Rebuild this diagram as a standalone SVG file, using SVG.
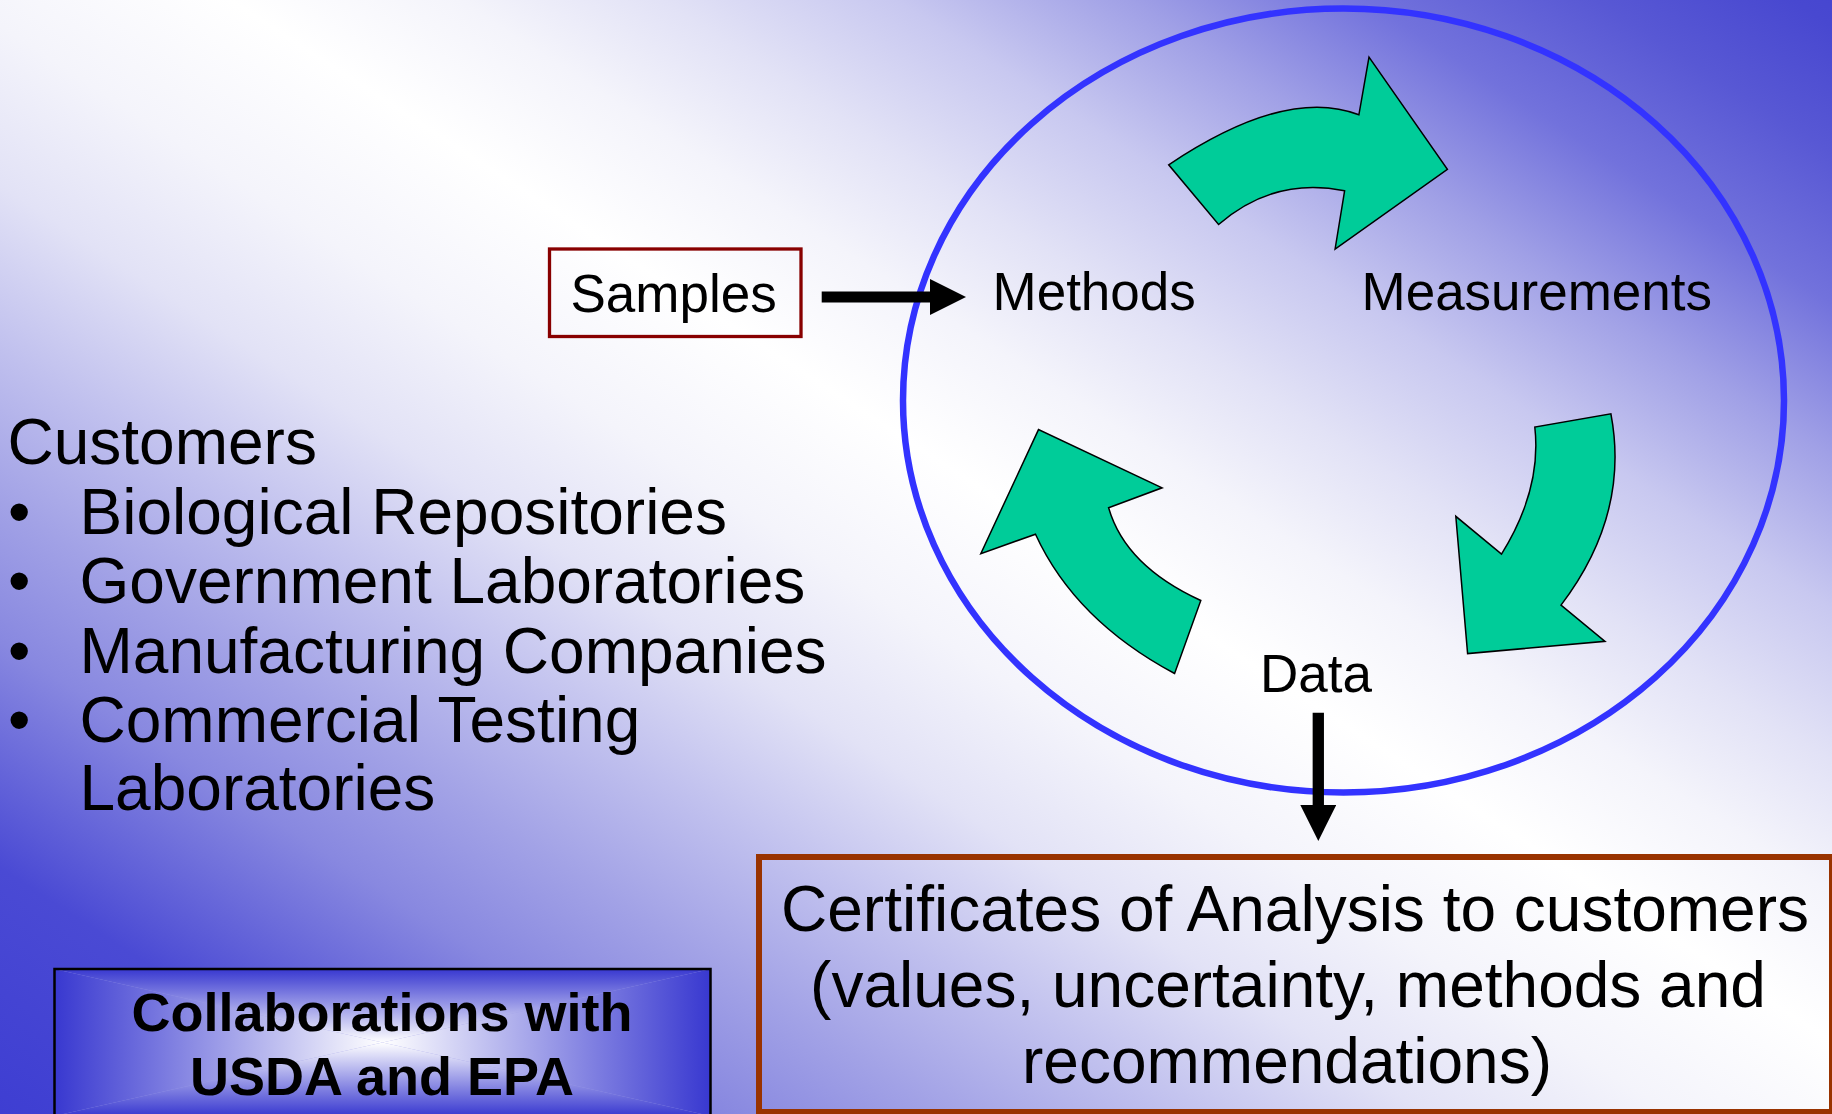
<svg xmlns="http://www.w3.org/2000/svg" width="1832" height="1114" viewBox="0 0 1832 1114">
  <defs>
    <linearGradient id="bg" gradientUnits="userSpaceOnUse" x1="-145.7" y1="1018.3" x2="911.6" y2="-607.4">
      <stop offset="0" stop-color="#3e3ed2"/>
      <stop offset="0.106" stop-color="#4a4ad4"/>
      <stop offset="0.204" stop-color="#8888e0"/>
      <stop offset="0.265" stop-color="#a2a2e6"/>
      <stop offset="0.330" stop-color="#c0c0ee"/>
      <stop offset="0.401" stop-color="#e2e2f6"/>
      <stop offset="0.470" stop-color="#f4f4fb"/>
      <stop offset="0.546" stop-color="#ffffff"/>
      <stop offset="0.610" stop-color="#f4f4fb"/>
      <stop offset="0.667" stop-color="#e2e2f6"/>
      <stop offset="0.733" stop-color="#c8c8f0"/>
      <stop offset="0.799" stop-color="#a0a0e6"/>
      <stop offset="0.865" stop-color="#7272dc"/>
      <stop offset="0.930" stop-color="#5858d4"/>
      <stop offset="0.985" stop-color="#4848d0"/>
      <stop offset="1" stop-color="#4646d0"/>
    </linearGradient>
    <linearGradient id="gTop" gradientUnits="userSpaceOnUse" x1="0" y1="969" x2="0" y2="1042.5">
      <stop offset="0" stop-color="#3838d0"/>
      <stop offset="1" stop-color="#ffffff"/>
    </linearGradient>
    <linearGradient id="gBot" gradientUnits="userSpaceOnUse" x1="0" y1="1116" x2="0" y2="1042.5">
      <stop offset="0" stop-color="#3838d0"/>
      <stop offset="1" stop-color="#ffffff"/>
    </linearGradient>
    <linearGradient id="gLeft" gradientUnits="userSpaceOnUse" x1="54.5" y1="0" x2="382.5" y2="0">
      <stop offset="0" stop-color="#3838d0"/>
      <stop offset="1" stop-color="#ffffff"/>
    </linearGradient>
    <linearGradient id="gRight" gradientUnits="userSpaceOnUse" x1="710.5" y1="0" x2="382.5" y2="0">
      <stop offset="0" stop-color="#3838d0"/>
      <stop offset="1" stop-color="#ffffff"/>
    </linearGradient>
    <marker id="head" markerUnits="userSpaceOnUse" markerWidth="36" markerHeight="36" viewBox="0 0 36 36" refX="0" refY="18" orient="auto">
      <path d="M0,0 L36,18 L0,36 Z" fill="#000"/>
    </marker>
    <style>
      text { font-family: "Liberation Sans", Arial, sans-serif; fill: #000; }
      .lbl { font-size: 53px; }
      .big { font-size: 64px; }
      .cert { font-size: 64px; text-anchor: middle; }
      .bold { font-size: 54px; font-weight: bold; text-anchor: middle; }
      .cyc { fill: #00cc99; stroke: #000; stroke-width: 1.5; stroke-linejoin: miter; }
      .conn { stroke: #000; fill: none; marker-end: url(#head); }
    </style>
  </defs>

  <rect x="0" y="0" width="1832" height="1114" fill="url(#bg)"/>

  <g id="cycle">
    <ellipse id="ring" cx="1343.5" cy="400.5" rx="440.5" ry="392" fill="none" stroke="#3333ff" stroke-width="6.5"/>
    <path id="arrow-top" class="cyc" d="M1168.7,164.8 Q1286.2,86.2 1358.9,114.8 L1369,57.1 L1447.4,169.4 L1335.1,249 L1344.6,190.8 Q1274.4,176.35 1218.6,224.5 Z"/>
    <path id="arrow-right" class="cyc" d="M1610.9,413.8 Q1630,514.5 1561,605.1 L1605,641.3 L1467.6,653.6 L1455.8,516.3 L1501.5,554.1 Q1541.85,489.45 1534.8,427 Z"/>
    <path id="arrow-left" class="cyc" d="M1174.6,673.5 Q1074.95,620.15 1035.5,534.2 L980.8,553.6 L1038.5,429.6 L1162.1,487.8 L1108.6,507.7 Q1125.3,565.9 1200.8,600.5 Z"/>
  </g>

  <g id="samples">
    <rect x="549.5" y="249" width="251.5" height="87.5" fill="none" stroke="#880000" stroke-width="3.3"/>
    <text class="lbl" x="570.5" y="311.7">Samples</text>
  </g>

  <g id="methods">
    <text class="lbl" x="992.5" y="309.7">Methods</text>
  </g>

  <g id="measurements">
    <text class="lbl" x="1361.5" y="309.7">Measurements</text>
  </g>

  <g id="data">
    <text class="lbl" x="1260" y="692">Data</text>
  </g>

  <g id="customers">
    <text class="big" x="7.5" y="464">Customers</text>
    <text class="big" x="8" y="534">•</text>
    <text class="big" x="79.5" y="534">Biological Repositories</text>
    <text class="big" x="8" y="603.3">•</text>
    <text class="big" x="79.5" y="603.3">Government Laboratories</text>
    <text class="big" x="8" y="672.6">•</text>
    <text class="big" x="79.5" y="672.6">Manufacturing Companies</text>
    <text class="big" x="8" y="741.8">•</text>
    <text class="big" x="79.5" y="741.8">Commercial Testing</text>
    <text class="big" x="79.5" y="810">Laboratories</text>
  </g>

  <g id="certificates">
    <rect x="759" y="857" width="1073" height="255" fill="none" stroke="#993300" stroke-width="6"/>
    <text class="cert" x="1295" y="931">Certificates of Analysis to customers</text>
    <text class="cert" x="1288" y="1007">(values, uncertainty, methods and</text>
    <text class="cert" x="1287" y="1083">recommendations)</text>
  </g>

  <g id="collaborations">
    <rect x="54.5" y="969" width="656" height="147" fill="#9c9ce6"/>
    <polygon points="54.5,969 710.5,969 382.5,1042.5" fill="url(#gTop)"/>
    <polygon points="54.5,1116 710.5,1116 382.5,1042.5" fill="url(#gBot)"/>
    <polygon points="54.5,969 54.5,1116 382.5,1042.5" fill="url(#gLeft)"/>
    <polygon points="710.5,969 710.5,1116 382.5,1042.5" fill="url(#gRight)"/>
    <rect x="54.5" y="969" width="656" height="147" fill="none" stroke="#000" stroke-width="2.5"/>
    <text class="bold" x="382" y="1031">Collaborations with</text>
    <text class="bold" x="382" y="1095">USDA and EPA</text>
  </g>

  <g id="connectors">
    <line class="conn" x1="821.7" y1="297" x2="930" y2="297" stroke-width="11"/>
    <line class="conn" x1="1318.3" y1="712.7" x2="1318.3" y2="805" stroke-width="11.3"/>
  </g>
</svg>
